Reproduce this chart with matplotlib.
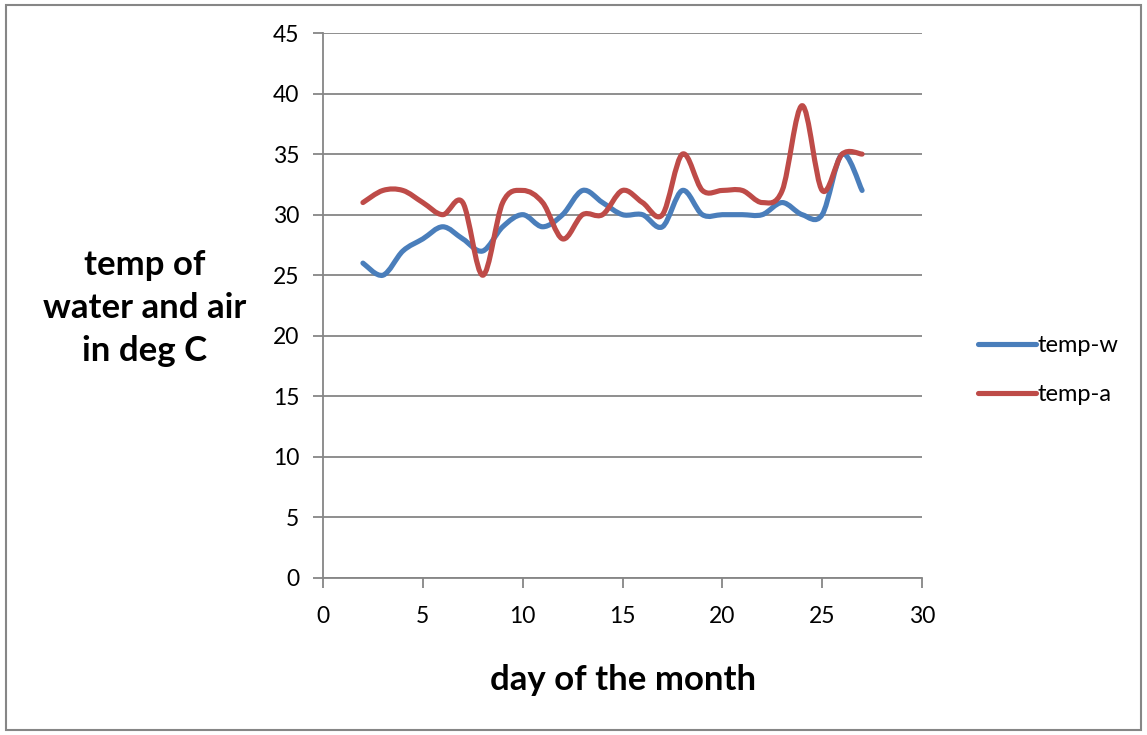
import matplotlib.pyplot as plt
from matplotlib.path import Path
from matplotlib.patches import PathPatch, Rectangle
from matplotlib.lines import Line2D

plt.rcParams['font.family'] = ['Lato', 'DejaVu Sans']

days = [2, 3, 4, 5, 6, 7, 8, 9, 10, 11, 12, 13, 14, 15, 16, 17, 18, 19, 20, 21, 22, 23, 24, 25, 26, 27]
temp_w = [26, 25, 27, 28, 29, 28, 27, 29, 30, 29, 30, 32, 31, 30, 30, 29, 32, 30, 30, 30, 30, 31, 30, 30, 35, 32]
temp_a = [31, 32, 32, 31, 30, 31, 25, 31, 32, 31, 28, 30, 30, 32, 31, 30, 35, 32, 32, 32, 31, 32, 39, 32, 35, 35]
x_ticks = [0, 5, 10, 15, 20, 25, 30]
y_ticks = [0, 5, 10, 15, 20, 25, 30, 35, 40, 45]

blue = '#4A7EBB'
red = '#BE4B48'
grey = '#868686'


def smooth_path(xs, ys):
    # Excel-style smoothed line: cubic bezier segments through each point
    pts = list(zip(xs, ys))
    verts = [pts[0]]
    codes = [Path.MOVETO]
    n = len(pts)
    for i in range(n - 1):
        p0 = pts[max(i - 1, 0)]
        p1 = pts[i]
        p2 = pts[i + 1]
        p3 = pts[min(i + 2, n - 1)]
        c1 = (p1[0] + (p2[0] - p0[0]) / 6, p1[1] + (p2[1] - p0[1]) / 6)
        c2 = (p2[0] - (p3[0] - p1[0]) / 6, p2[1] - (p3[1] - p1[1]) / 6)
        verts += [c1, c2, p2]
        codes += [Path.CURVE4] * 3
    return Path(verts, codes)


fig = plt.figure(figsize=(11.47, 7.35), dpi=100)
fig.patches.append(Rectangle((0.005, 0.007), 0.99, 0.986, transform=fig.transFigure,
                             fill=False, edgecolor=grey, linewidth=1.5))
ax = fig.add_axes([323 / 1147, 1 - 578 / 735, (922 - 323) / 1147, (578 - 33) / 735])

for ys, col in [(temp_w, blue), (temp_a, red)]:
    ax.add_patch(PathPatch(smooth_path(days, ys), fill=False, edgecolor=col,
                           linewidth=3.7, capstyle='round', joinstyle='round'))

ax.set_xlim(0, 30)
ax.set_ylim(0, 45)
ax.set_xticks(x_ticks)
ax.set_yticks(y_ticks)
ax.grid(axis='y', color=grey, linewidth=1.3)
ax.set_axisbelow(True)
for s in ['top', 'right']:
    ax.spines[s].set_visible(False)
for s in ['left', 'bottom']:
    ax.spines[s].set_color(grey)
    ax.spines[s].set_linewidth(1.3)
ax.tick_params(colors=grey, labelcolor='black', labelsize=16.5, length=7, width=1.3, direction='out')
ax.tick_params(axis='y', pad=10)
ax.tick_params(axis='x', pad=13)

fig.text(145 / 1147, 1 - 308 / 735, 'temp of\nwater and air\nin deg C', ha='center', va='center',
         fontsize=25, fontweight='bold', linespacing=1.42)
fig.text(623 / 1147, 1 - 680 / 735, 'day of the month', ha='center', va='center',
         fontsize=25, fontweight='bold')

handles = [Line2D([], [], color=blue, linewidth=3.7, solid_capstyle='round'),
           Line2D([], [], color=red, linewidth=3.7, solid_capstyle='round')]
fig.legend(handles, ['temp-w', 'temp-a'], loc='center left', bbox_to_anchor=(957 / 1147, 1 - 370 / 735),
           frameon=False, fontsize=17, handlelength=2.45, handletextpad=0.05, labelspacing=1.2)

fig.savefig('out.png', dpi=100)
